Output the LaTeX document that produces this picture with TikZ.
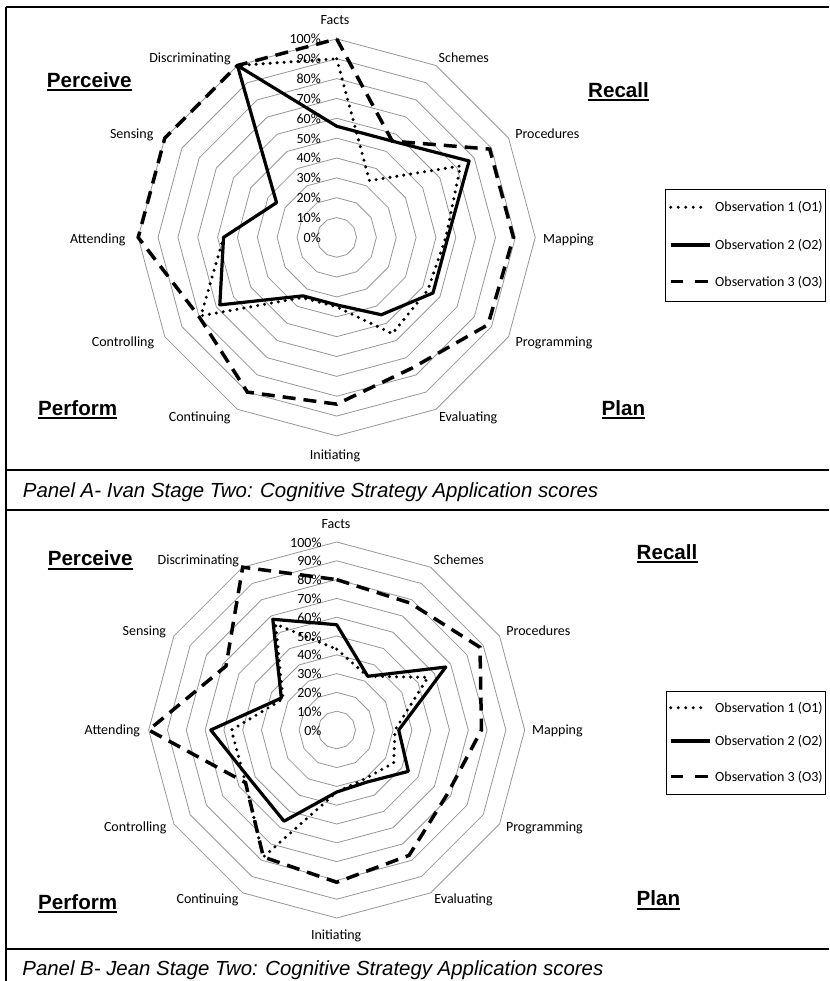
\documentclass[tikz,border=0pt]{standalone}
\usepackage{fontspec}
\setmainfont{Carlito}
\newfontfamily\arialfont{Liberation Sans}
\definecolor{gridgray}{RGB}{150,150,150}
\newcommand{\radargrid}[3]{%
  \foreach \k in {1,...,10}{%
    \draw[gridline] ({#1},{#2-\k*#3/10}) \foreach \a in {30,60,...,330}{ -- ({#1+\k*#3/10*sin(\a)},{#2-\k*#3/10*cos(\a)}) } -- cycle;
  }%
}
\newcommand{\radarseries}[6]{%
  \foreach \v [count=\i from 0] in {#6}{%
    \coordinate (#5-\i) at ({#2+\v*#4*sin(30*\i)},{#3-\v*#4*cos(30*\i)});
  }%
  \draw[#1] (#5-0) -- (#5-1) -- (#5-2) -- (#5-3) -- (#5-4) -- (#5-5) -- (#5-6) -- (#5-7) -- (#5-8) -- (#5-9) -- (#5-10) -- (#5-11) -- cycle;
}
\newcommand{\pctlabels}[4]{% prefix, x, cy, R
  \foreach \k in {0,...,10}{%
    \pgfmathtruncatemacro\pp{\k*10}
    \node[pct] (#1-\k) at (#2,{#3-\k*#4/10+5}) {\pp\%};
  }%
}
\begin{document}
\begin{tikzpicture}[x=1pt,y=-1pt,
  gridline/.style={draw=gridgray, line width=0.8pt, line join=miter},
  lab/.style={font=\fontsize{14}{16}\selectfont, inner sep=0pt, anchor=base},
  pct/.style={font=\fontsize{14}{16}\selectfont, inner sep=0pt, anchor=base east},
  legtext/.style={font=\fontsize{14}{16}\selectfont, inner sep=0pt, anchor=base west},
  cat/.style={font=\arialfont\bfseries\fontsize{20.6}{24}\selectfont, inner sep=0pt, anchor=base west},
  captxt/.style={font=\arialfont\itshape\fontsize{20.4}{24}\selectfont, inner sep=0pt, anchor=base west},
  framel/.style={line width=2.2pt},
  uline/.style={line width=2.2pt},
  sOone/.style={line width=3.4pt, line cap=round, dash pattern=on 0pt off 7pt},
  sOtwo/.style={line width=3.2pt, line join=round},
  sOthree/.style={line width=3.5pt, dash pattern=on 13pt off 8pt},
  legOthree/.style={line width=3.5pt, dash pattern=on 12.7pt off 11.7pt},
  legOone/.style={line width=3.2pt, line cap=round, dash pattern=on 0pt off 7.5pt},
  legbox/.style={draw, line width=1pt},
]
\useasboundingbox (0,0) rectangle (829,981);
\fill[white] (0,0) rectangle (829,981);

% frame
\draw[framel] (5.7,6.7) -- (829,6.7);
\draw[framel] (5.7,6.7) -- (5.7,981);
\draw[framel] (5.7,470) -- (829,470);
\draw[framel] (5.7,510) -- (829,510);
\draw[framel] (5.7,949.3) -- (829,949.3);

% ================= Panel A =================
\radargrid{336.7}{237.4}{198.5}
\pctlabels{pa}{321}{237.4}{198.5}
\node[lab] (aFacts) at (335,25) {Facts};
\node[lab] (aSchemes) at (463.8,62.3) {Schemes};
\node[lab] (aProc) at (547.3,138.3) {Procedures};
\node[lab] (aMap) at (568.5,243.3) {Mapping};
\node[lab] (aProg) at (554,346.7) {Programming};
\node[lab] (aEval) at (468.2,421.7) {Evaluating};
\node[lab] (aInit) at (335,459.3) {Initiating};
\node[lab] (aCont) at (199.7,421.7) {Continuing};
\node[lab] (aCtrl) at (123,346.7) {Controlling};
\node[lab] (aAtt) at (97.8,243.3) {Attending};
\node[lab] (aSens) at (131.7,138.3) {Sensing};
\node[lab] (aDisc) at (190,62.3) {Discriminating};

\radarseries{sOone}{336.7}{237.4}{198.5}{aone}{0.90,0.33,0.72,0.55,0.53,0.56,0.35,0.35,0.79,0.57,0.35,1.00}
\radarseries{sOtwo}{336.7}{237.4}{198.5}{atwo}{0.56,0.56,0.77,0.56,0.56,0.45,0.34,0.34,0.68,0.57,0.35,1.00}
\radarseries{sOthree}{336.7}{237.4}{198.5}{athree}{1.00,0.56,0.89,0.89,0.88,0.76,0.84,0.90,0.80,1.00,1.00,1.00}

\node[cat] (aPerceive) at (46.7,87.3) {Perceive};
\node[cat] (aRecall) at (588,97.3) {Recall};
\node[cat] (aPerform) at (38,415.3) {Perform};
\node[cat] (aPlan) at (601.5,415.3) {Plan};
\foreach \n in {aPerceive,aRecall,aPerform,aPlan}{
  \draw[uline] ([yshift=-3pt]\n.base west) -- ([yshift=-3pt]\n.base east);
}

\node[legbox, minimum width=160pt, minimum height=111.7pt, anchor=north west, inner sep=0pt] (alegend) at (665,189) {};
\draw[legOone] (670.7,207.3) -- (708.2,207.3);
\draw[sOtwo] (670.7,245) -- (710,245);
\draw[legOthree] (670.7,281.7) -- (710,281.7);
\node[legtext] (aL1) at (715,212) {Observation 1 (O1)};
\node[legtext] (aL2) at (715,249.7) {Observation 2 (O2)};
\node[legtext] (aL3) at (715,286.4) {Observation 3 (O3)};

\node[captxt] (capA) at (22.7,497.3) {Panel A- Ivan Stage Two: Cognitive Strategy Application scores};

% ================= Panel B =================
\radargrid{336.7}{730}{188}
\pctlabels{pb}{321.7}{730}{188}
\node[lab] (bFacts) at (336,528.3) {Facts};
\node[lab] (bSchemes) at (458.8,564) {Schemes};
\node[lab] (bProc) at (538.4,635.7) {Procedures};
\node[lab] (bMap) at (557.4,734) {Mapping};
\node[lab] (bProg) at (544.4,831.7) {Programming};
\node[lab] (bEval) at (463.5,903.3) {Evaluating};
\node[lab] (bInit) at (336.2,939.3) {Initiating};
\node[lab] (bCont) at (207.5,903.3) {Continuing};
\node[lab] (bCtrl) at (135.2,831.7) {Controlling};
\node[lab] (bAtt) at (112.4,734) {Attending};
\node[lab] (bSens) at (144.4,635.7) {Sensing};
\node[lab] (bDisc) at (198.4,564) {Discriminating};

\radarseries{sOone}{336.7}{730}{188}{bone}{0.43,0.33,0.56,0.31,0.35,0.30,0.33,0.78,0.56,0.56,0.33,0.65}
\radarseries{sOtwo}{336.7}{730}{188}{btwo}{0.56,0.33,0.67,0.33,0.44,0.32,0.33,0.56,0.53,0.67,0.34,0.68}
\radarseries{sOthree}{336.7}{730}{188}{bthree}{0.80,0.78,0.88,0.77,0.68,0.77,0.81,0.78,0.56,1.00,0.68,1.00}

\node[cat] (bPerceive) at (47.6,565.6) {Perceive};
\node[cat] (bRecall) at (636.5,559) {Recall};
\node[cat] (bPerform) at (38,909) {Perform};
\node[cat] (bPlan) at (636.5,905.6) {Plan};
\foreach \n in {bPerceive,bRecall,bPerform,bPlan}{
  \draw[uline] ([yshift=-3pt]\n.base west) -- ([yshift=-3pt]\n.base east);
}

\node[legbox, minimum width=159.3pt, minimum height=103.3pt, anchor=north west, inner sep=0pt] (blegend) at (665.7,690.7) {};
\draw[legOone] (670.7,707.7) -- (708.2,707.7);
\draw[sOtwo] (670.7,741) -- (710,741);
\draw[legOthree] (670.7,776.7) -- (710,776.7);
\node[legtext] (bL1) at (715,712.4) {Observation 1 (O1)};
\node[legtext] (bL2) at (715,745.7) {Observation 2 (O2)};
\node[legtext] (bL3) at (715,781.4) {Observation 3 (O3)};

\node[captxt] (capB) at (22.2,975) {Panel B- Jean Stage Two: Cognitive Strategy Application scores};
\end{tikzpicture}
\end{document}
